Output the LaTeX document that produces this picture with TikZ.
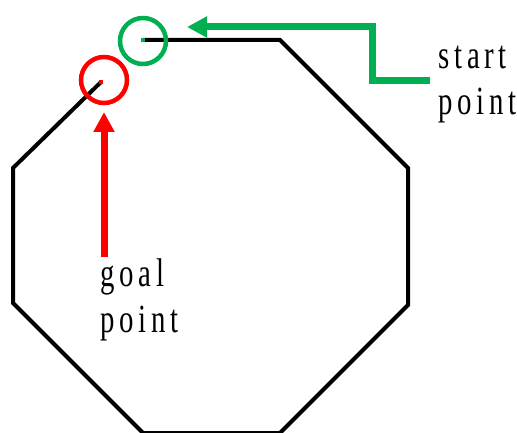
\documentclass[tikz,border=0pt]{standalone}
\usepackage{fontspec}
\newfontfamily\lblfont[FakeStretch=0.72,LetterSpace=12]{Liberation Serif}
\usetikzlibrary{arrows.meta,calc}
\definecolor{pathgreen}{RGB}{0,176,80}
\definecolor{pathred}{RGB}{255,0,0}
\tikzset{
  wall/.style={line width=4pt, line join=miter},
  ring/.style={circle, draw=#1, line width=4.5pt, minimum size=46pt, inner sep=0pt},
  pointer/.style={line width=7pt, draw=#1, -{Triangle[length=20pt,width=20pt]}},
  lbl/.style={font=\lblfont\fontsize{40}{46}\selectfont, align=left, inner sep=0pt, anchor=base west},
}
\begin{document}
\begin{tikzpicture}[x=1pt, y=-1pt]
  \useasboundingbox (0,0) rectangle (517,433);
  % octagon corners
  \coordinate (start) at (143,40);
  \coordinate (goal) at (101,82);
  \foreach \n/\p in {a/{(280,40)}, b/{(408,168)}, c/{(408,305)}, d/{(280,433)},
                     e/{(143,433)}, f/{(13,303)}, g/{(13,168)}}
    \path \p coordinate (\n);
  % open outline, start to goal
  \draw[wall] (start) -- (a) -- (b) -- (c) -- (d) -- (e) -- (f) -- (g) -- (goal);
  \fill[pathgreen] ($(start)+(-2,-2)$) rectangle ($(start)+(2,2)$);
  \fill[pathred] ($(goal)+(-2,-2)$) rectangle ($(goal)+(2,2)$);
  % rings round the two points
  \node[ring=pathgreen] (startring) at (143,41) {};
  \node[ring=pathred] (goalring) at (104,80) {};
  % labels (anchored on the baseline of the last line)
  \node[lbl] (startlbl) at (438,115) {start\\point};
  \node[lbl] (goallbl) at (100,332) {goal\\point};
  % arrows
  \coordinate (gtail) at (430,81);
  \coordinate (gtip) at (187,27);
  \coordinate (rtail) at (104,257);
  \coordinate (rtip) at (104,112);
  \draw[pointer=pathgreen] (gtail) -- (372,81) -- (372,27) -- (gtip);
  \draw[pointer=pathred] (rtail) -- (rtip);
\end{tikzpicture}
\end{document}
